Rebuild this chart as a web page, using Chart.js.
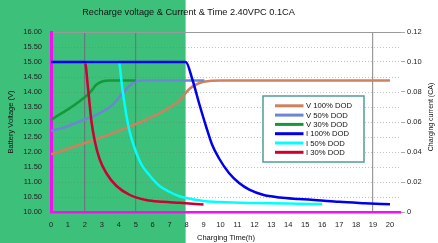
<!DOCTYPE html>
<html>
<head>
<meta charset="utf-8">
<script src="https://cdn.jsdelivr.net/npm/chart.js@4.4.0/dist/chart.umd.min.js"></script>
<style>
  html, body { margin: 0; padding: 0; background: #fff; }
</style>
</head>
<body>
<canvas id="chart" width="438" height="243"></canvas>
<script>
const chartTitle = 'Recharge voltage & Current & Time 2.40VPC 0.1CA'
const rightTitle = 'Charging current (CA)'
const seriesNames = ['V 100% DOD', 'V 50% DOD', 'V 30% DOD', 'I 100% DOD', 'I 50% DOD', 'I 30% DOD']
const seriesColors = ['#d0805f', '#6c86d4', '#16983a', '#0000ee', '#00ffff', '#cc0033']
const drawOrder = [5, 4, 3, 0, 1, 2]

// voltage curves (left axis, V)
const v100Time = [0, 1.69, 3.65, 5.61, 6.59, 7.57, 8.16, 8.75, 9.34, 10, 20]
const v100Volt = [11.92, 12.24, 12.63, 13.08, 13.35, 13.71, 14.1, 14.3, 14.37, 14.38, 14.38]
const v50Time = [0, 1, 1.69, 2.67, 3.65, 4.24, 4.82, 5.12, 5.5, 9.05]
const v50Volt = [12.7, 12.86, 13.02, 13.24, 13.58, 13.97, 14.3, 14.37, 14.38, 14.38]
const v30Time = [0, 0.5, 1, 1.69, 2.28, 2.67, 3.06, 3.5, 5]
const v30Volt = [13.07, 13.25, 13.42, 13.69, 13.97, 14.24, 14.36, 14.38, 14.38]

// current curves (right axis, CA)
const i100Time = [0, 7.95, 8.35, 8.75, 9.15, 9.5, 9.9, 10.5, 11.1, 11.7, 12.5, 13.5, 14.6, 15.7, 17, 18.5, 20]
const i100Amp = [0.1, 0.1, 0.088, 0.072, 0.057, 0.045, 0.036, 0.026, 0.0193, 0.0149, 0.0115, 0.0097, 0.0087, 0.0079, 0.0068, 0.0059, 0.0051]
const i50Time = [0, 4, 4.2, 4.44, 4.63, 4.92, 5.32, 5.81, 6.39, 6.98, 7.57, 8, 9.14, 10, 12, 14, 16]
const i50Amp = [0.1, 0.1, 0.083, 0.065, 0.054, 0.043, 0.032, 0.0245, 0.0175, 0.0135, 0.0105, 0.0093, 0.0071, 0.0066, 0.006, 0.0056, 0.0053]
const i30Time = [0, 2, 2.18, 2.38, 2.57, 2.86, 3.26, 3.85, 4.63, 5.61, 6.59, 7.57, 9]
const i30Amp = [0.1, 0.1, 0.083, 0.061, 0.048, 0.0355, 0.026, 0.0175, 0.0115, 0.008, 0.0068, 0.0061, 0.005]

const fontName = '"Liberation Sans", Arial, sans-serif'
const magenta = '#f010f0'
const green = '#3cc07a'

function pts(xs, ys) {
    return xs.map((x, i) => ({ x: x, y: ys[i] }))
}

function line(idx, data, axis) {
    return {
        label: seriesNames[idx],
        data: data,
        yAxisID: axis,
        order: drawOrder[idx],
        borderColor: seriesColors[idx],
        borderWidth: 2.5,
        pointRadius: 0,
        fill: false,
        cubicInterpolationMode: 'monotone'
    }
}

const backdrop = {
    id: 'backdrop',
    beforeDraw(chart) {
        const ctx = chart.ctx
        const x8 = chart.scales.x.getPixelForValue(8)
        ctx.save()
        ctx.fillStyle = '#fff'
        ctx.fillRect(0, 0, chart.width, chart.height)
        ctx.fillStyle = green
        ctx.fillRect(0, 0, x8 - 1, chart.height)
        ctx.fillStyle = '#111'
        ctx.font = '9.2px ' + fontName
        ctx.textAlign = 'center'
        ctx.textBaseline = 'middle'
        ctx.fillText(chartTitle, 188.5, 12.5)
        // right axis title reads bottom to top
        ctx.translate(431, 117)
        ctx.rotate(-Math.PI / 2)
        ctx.font = '7px ' + fontName
        ctx.fillText(rightTitle, 0, 0)
        ctx.restore()
    }
}

const legendBox = {
    id: 'legendBox',
    afterDraw(chart) {
        const ctx = chart.ctx
        ctx.save()
        ctx.fillStyle = '#fff'
        ctx.fillRect(263, 96, 101, 66)
        ctx.strokeStyle = '#4f9c9a'
        ctx.lineWidth = 1.5
        ctx.strokeRect(263, 96, 101, 66)
        ctx.font = '7.7px ' + fontName
        ctx.textBaseline = 'middle'
        ctx.fillStyle = '#111'
        seriesNames.forEach((name, i) => {
            const y = 105.8 + i * 9.3
            ctx.strokeStyle = seriesColors[i]
            ctx.lineWidth = 3
            ctx.beginPath()
            ctx.moveTo(275, y)
            ctx.lineTo(303.5, y)
            ctx.stroke()
            ctx.fillText(name, 306, y + 0.5)
        })
        ctx.restore()
    }
}

const tickFont = { family: fontName, size: 7.5 }

new Chart(document.getElementById('chart'), {
    type: 'line',
    data: {
        datasets: [
            line(0, pts(v100Time, v100Volt), 'y'),
            line(1, pts(v50Time, v50Volt), 'y'),
            line(2, pts(v30Time, v30Volt), 'y'),
            line(3, pts(i100Time, i100Amp), 'y1'),
            line(4, pts(i50Time, i50Amp), 'y1'),
            line(5, pts(i30Time, i30Amp), 'y1')
        ]
    },
    options: {
        responsive: false,
        animation: false,
        layout: { padding: { top: 32, left: 0, right: 0, bottom: 0 } },
        plugins: {
            legend: { display: false },
            tooltip: { enabled: false }
        },
        scales: {
            x: {
                type: 'linear',
                min: 0,
                max: 20.65,
                afterFit: s => { s.height = 31 },
                ticks: { stepSize: 1, includeBounds: false, autoSkip: false, padding: 8, color: '#222', font: tickFont },
                grid: {
                    drawTicks: false,
                    lineWidth: 1.2,
                    color: c => {
                        const v = c.tick ? c.tick.value : -1
                        if (v === 2 || v === 5) return 'rgba(120,100,120,0.75)'
                        if (v === 19) return '#999'
                        return 'rgba(0,0,0,0)'
                    }
                },
                border: { color: magenta, width: 2.5 },
                title: { display: true, text: 'Charging Time(h)', color: '#111', font: tickFont, padding: { top: 0, bottom: 1 } }
            },
            y: {
                position: 'left',
                min: 10,
                max: 16,
                afterFit: s => { s.width = 51 },
                ticks: { stepSize: 0.5, padding: 9, color: '#222', font: tickFont, callback: v => Number(v).toFixed(2) },
                grid: {
                    drawTicks: false,
                    lineWidth: 1,
                    color: c => (c.tick && c.tick.value === 16) ? '#999' : 'rgba(120,120,120,0.45)'
                },
                border: {
                    color: magenta,
                    width: 3,
                    dash: c => (c.tick && c.tick.value === 16) ? [] : [1, 2]
                },
                title: { display: true, text: 'Battery Voltage (V)', color: '#111', font: tickFont, padding: { top: 6, bottom: 0 } }
            },
            y1: {
                position: 'right',
                min: 0,
                max: 0.12,
                afterFit: s => { s.width = 37 },
                ticks: { stepSize: 0.02, padding: 2, color: '#222', font: tickFont, callback: v => Math.abs(v) < 1e-9 ? '0' : Number(v).toFixed(2) },
                grid: { drawOnChartArea: false, drawTicks: true, tickLength: 4, tickColor: '#aaa', tickWidth: 1 },
                border: { display: false }
            }
        }
    },
    plugins: [backdrop, legendBox]
})
</script>
</body>
</html>
